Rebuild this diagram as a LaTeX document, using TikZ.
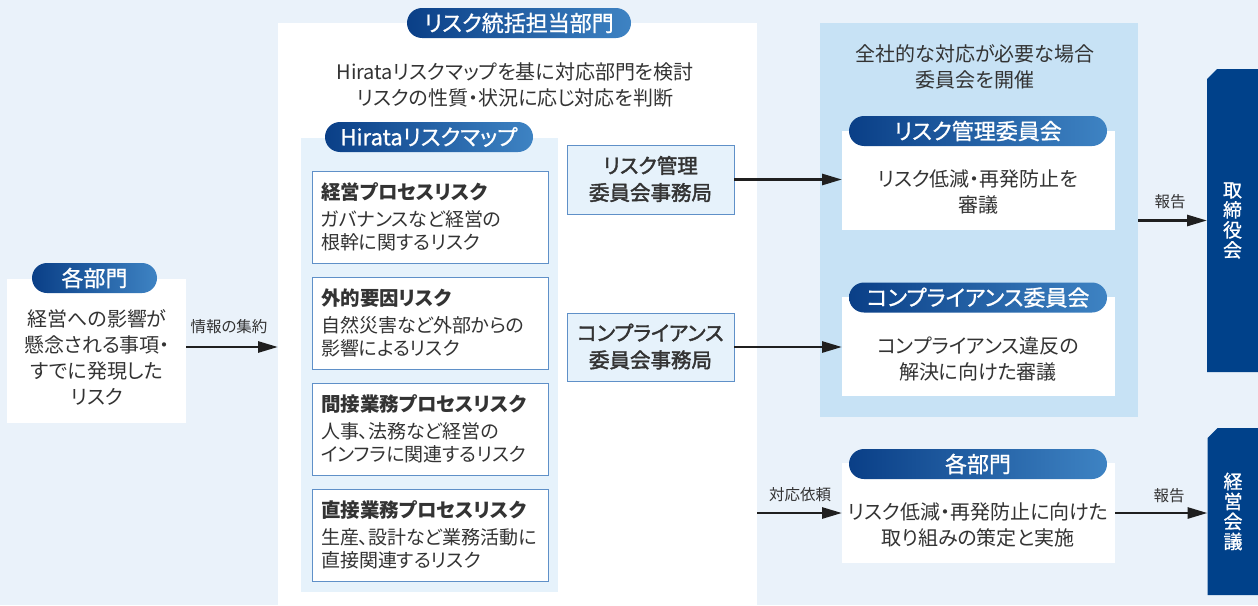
\documentclass[tikz,border=0pt]{standalone}
\usepackage{fontspec}
\setmainfont{Noto Sans CJK JP}[RawFeature={+palt}]
\newfontfamily\medfont{Noto Sans CJK JP}[RawFeature={+palt;embolden=0.9}]
\newfontfamily\semifont{Noto Sans CJK JP}[RawFeature={+palt;embolden=2}]
\usetikzlibrary{arrows.meta,shapes.misc}
\definecolor{pagebg}{HTML}{EAF2FA}
\definecolor{mapblue}{HTML}{E6F2FB}
\definecolor{cblue}{HTML}{C7E2F5}
\definecolor{darkblue}{HTML}{00418A}
\definecolor{pillL}{HTML}{0A3F87}
\definecolor{pillR}{HTML}{3E83C3}
\definecolor{cardline}{HTML}{5F90C8}
\definecolor{txt}{HTML}{333333}
\newcommand{\fBody}{\fontsize{20}{26}\selectfont}
\newcommand{\fCard}{\fontsize{19}{23}\selectfont}
\newcommand{\fCardT}{\fontsize{19.5}{23}\selectfont}
\newcommand{\fSec}{\fontsize{20.5}{27}\selectfont}
\newcommand{\fPill}{\fontsize{22}{24}\selectfont}
\newcommand{\fLab}{\fontsize{15.5}{18}\selectfont}
\newcommand{\fDark}{\fontsize{19}{20}\selectfont}
\begin{document}
\begin{tikzpicture}[x=1pt,y=-1pt,
  every node/.style={inner sep=0pt,outer sep=0pt,text=txt},
  pill/.style={rounded corners=15pt,left color=pillL,right color=pillR,text=white,font=\medfont\fPill,minimum height=30pt},
  whitebox/.style={fill=white},
  chamf/.style={chamfered rectangle,chamfered rectangle corners=north west,chamfered rectangle sep=5pt},
  card/.style={chamf,fill=white,draw=cardline,line width=1pt,minimum width=236pt,minimum height=92pt},
  secbox/.style={chamf,fill=mapblue,draw=cardline,line width=1pt,minimum width=167pt,minimum height=68pt},
  darkbox/.style={chamf,fill=darkblue,text=white,font=\medfont\fDark,align=center,minimum width=51pt},
  body/.style={font=\fBody,align=center},
  sectext/.style={font=\semifont\fSec,align=center},
  ctitle/.style={font=\fCardT\bfseries,anchor=west},
  cbody/.style={font=\fCard,align=left,anchor=west},
  lab/.style={font=\fLab},
  arr/.style={-{Triangle[length=20pt,width=11pt]},line width=2.8pt,draw=black!88}]
\useasboundingbox (0,0) rectangle (1258,605);
\fill[pagebg] (0,0) rectangle (1258,605);
% panels
\node[whitebox,minimum width=479pt,minimum height=582pt] (center) at (517.5,314) {};
\node[fill=cblue,minimum width=318pt,minimum height=394pt] (cpanel) at (979,220) {};
\node[fill=mapblue,minimum width=257pt,minimum height=454pt] (map) at (429.5,365) {};
% left
\node[whitebox,minimum width=179pt,minimum height=144pt] (leftbox) at (96.5,351) {};
\node[pill,minimum width=125pt] (leftpill) at (94.5,278) {各部門};
\node[body] (lefttext) at (97,357.5) {経営への影響が\\懸念される事項・\\すでに発現した\\リスク};
% center header
\node[pill,minimum width=224pt] (toppill) at (519,23) {リスク統括担当部門};
\node[body] (centertext) at (515,84.5) {Hirataリスクマップを基に対応部門を検討\\リスクの性質・状況に応じ対応を判断};
\node[pill,minimum width=208pt] (mappill) at (429,137) {Hirataリスクマップ};
% cards
\node[card] (card1) at (430,217) {};
\node[card] (card2) at (430,323) {};
\node[card] (card3) at (430,429) {};
\node[card] (card4) at (430,535) {};
\node[ctitle] (t1) at (321,192) {経営プロセスリスク};
\node[cbody] (b1) at (321,231) {ガバナンスなど経営の\\根幹に関するリスク};
\node[ctitle] (t2) at (321,298) {外的要因リスク};
\node[cbody] (b2) at (321,337) {自然災害など外部からの\\影響によるリスク};
\node[ctitle] (t3) at (321,404) {間接業務プロセスリスク};
\node[cbody] (b3) at (321,443) {人事、法務など経営の\\インフラに関連するリスク};
\node[ctitle] (t4) at (321,510) {直接業務プロセスリスク};
\node[cbody] (b4) at (321,549) {生産、設計など業務活動に\\直接関連するリスク};
% secretariats
\node[secbox,minimum height=69pt] (sec1) at (650.5,179.5) {};
\node[sectext] (sec1t) at (650.5,179) {リスク管理\\委員会事務局};
\node[secbox] (sec2) at (650.5,347) {};
\node[sectext] (sec2t) at (650.5,346.5) {コンプライアンス\\委員会事務局};
% committee panel
\node[body] (ctext) at (975,66.5) {全社的な対応が必要な場合\\委員会を開催};
\node[whitebox,minimum width=273pt,minimum height=99pt] (rm) at (978.5,180.5) {};
\node[pill,minimum width=258pt] (rmpill) at (978,131) {リスク管理委員会};
\node[body] (rmt) at (978,191.5) {リスク低減・再発防止を\\審議};
\node[whitebox,minimum width=273pt,minimum height=99pt] (cc) at (978.5,346.5) {};
\node[pill,minimum width=258pt] (ccpill) at (978,297.5) {コンプライアンス委員会};
\node[body] (cct) at (978,359) {コンプライアンス違反の\\解決に向けた審議};
\node[whitebox,minimum width=273pt,minimum height=100pt] (dept) at (978.5,513) {};
\node[pill,minimum width=258pt] (deptpill) at (978,464) {各部門};
\node[body] (deptt) at (978,525) {リスク低減・再発防止に向けた\\取り組みの策定と実施};
% right dark boxes
\node[darkbox,minimum height=303pt] (board) at (1232.5,220.5) {取\\締\\役\\会};
\node[darkbox,minimum height=167pt] (mtg) at (1233,511.5) {経\\営\\会\\議};
% arrows
\draw[arr] ([yshift=4pt]leftbox.east) -- ([yshift=4pt]leftbox.east -| center.west);
\node[lab] (l1) at (229,327) {情報の集約};
\draw[arr] (sec1.east) -- (sec1.east -| rm.west);
\draw[arr] (sec2.east) -- (sec2.east -| cc.west);
\draw[arr] (dept.west -| center.east) -- (dept.west);
\node[lab] (l2) at (800,495) {対応依頼};
\draw[arr] (board.west -| cpanel.east) -- (board.west);
\node[lab] (l3) at (1170,202) {報告};
\draw[arr] (dept.east) -- (dept.east -| mtg.west);
\node[lab] (l4) at (1169,496) {報告};
\end{tikzpicture}
\end{document}
